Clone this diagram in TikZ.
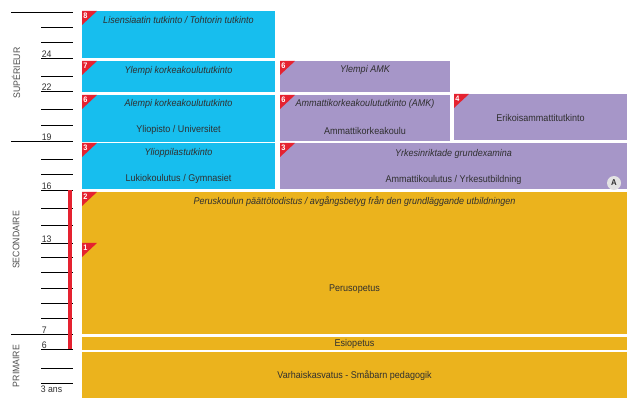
\documentclass[tikz,border=0pt]{standalone}
\usepackage{fontspec}
\setmainfont{Liberation Sans}[FakeStretch=0.92]
\usetikzlibrary{positioning}

\definecolor{uniblue}{HTML}{17BEEE}
\definecolor{amkpurple}{HTML}{A696C8}
\definecolor{basicorange}{HTML}{EBB31D}
\definecolor{flagred}{HTML}{E52230}
\definecolor{txtgray}{HTML}{2F2F2F}

% red corner with the number of the level
\newcommand\flag[3]{%
  \fill[flagred] (#2) -- ++(15,0) -- ++(-15,14) -- cycle;
  \node[flagnum] (#1) at ([xshift=3.4pt,yshift=-4.8pt]#2) {#3};}

\begin{document}
\begin{tikzpicture}[
    x=1pt, y=-1pt, % pixel grid, y downwards
    box/.style={anchor=north west, inner sep=0pt, outer sep=0pt, minimum height=#1},
    bluebox/.style={box=#1, fill=uniblue},
    purplebox/.style={box=#1, fill=amkpurple},
    orangebox/.style={box=#1, fill=basicorange},
    degree/.style={font=\fontsize{9.8}{11}\selectfont\itshape, text=txtgray, inner sep=0pt},
    school/.style={font=\fontsize{9.8}{11}\selectfont, text=txtgray, inner sep=0pt},
    flagnum/.style={font=\fontsize{8}{8}\selectfont\bfseries, text=white, inner sep=0pt},
    age/.style={anchor=south west, inner sep=0.6pt, font=\fontsize{9.5}{10}\selectfont, text=txtgray},
    level/.style={rotate=90, font=\fontsize{9.5}{10}\selectfont, text=txtgray!85},
    tick/.style={line width=0.8pt},
  ]
  \useasboundingbox (0,0) rectangle (627,398);

  % age scale
  \foreach \y in {27,42,58,76,91,109,125,159,174,190,208,225,243,257,272,288,303,318,349,368,383}
    \draw[tick] (41,\y) -- (73,\y);
  \foreach \y in {12,141,334}
    \draw[tick] (11,\y) -- (73,\y);
  \fill[flagred] (68,190) rectangle (72,349);
  \foreach \y/\a in {58/24, 91/22, 141/19, 190/16, 243/13, 334/7, 349/6}
    \node[age] (age\a) at (41,\y) {\a};
  \node[age, anchor=north west] (age3) at (40,385) {3 ans};

  \node[level] (sup) at (16,73) {SUPÉRIEUR};
  \node[level] (sec) at (16,240) {SECONDAIRE};
  \node[level] (prim) at (16,366) {PRIMAIRE};

  % university
  \node[bluebox=47pt, minimum width=193pt] (lis) at (82,11) {};
  \node[bluebox=31pt, minimum width=193pt] (ylk) at (82,61) {};
  \node[bluebox=47pt, minimum width=193pt] (alk) at (82,95) {};
  \node[bluebox=46pt, minimum width=193pt] (lukio) at (82,143) {};

  % polytechnic and vocational
  \node[purplebox=31pt, minimum width=170pt] (yamk) at (280,61) {};
  \node[purplebox=46pt, minimum width=170pt] (amk) at (280,95) {};
  \node[purplebox=46pt, minimum width=173pt] (eat) at (454,94) {};
  \node[purplebox=46pt, minimum width=347pt] (yrkes) at (280,143) {};

  % basic education
  \node[orangebox=142pt, minimum width=545pt] (perus) at (82,192) {};
  \node[orangebox=13pt, minimum width=545pt] (esi) at (82,337) {};
  \node[orangebox=46pt, minimum width=545pt] (varh) at (82,352) {};

  % texts
  \node[degree] (lis-t) at ([yshift=-9pt]lis.north) {Lisensiaatin tutkinto / Tohtorin tutkinto};
  \node[degree] (ylk-t) at ([yshift=-10pt]ylk.north) {Ylempi korkeakoulututkinto};
  \node[degree] (alk-t) at ([yshift=-9pt]alk.north) {Alempi korkeakoulututkinto};
  \node[school] (alk-s) at ([yshift=-35pt]alk.north) {Yliopisto / Universitet};
  \node[degree] (lukio-t) at ([yshift=-10pt]lukio.north) {Ylioppilastutkinto};
  \node[school] (lukio-s) at ([yshift=-36pt]lukio.north) {Lukiokoulutus / Gymnasiet};
  \node[degree] (yamk-t) at ([yshift=-9pt]yamk.north) {Ylempi AMK};
  \node[degree] (amk-t) at ([yshift=-9pt]amk.north) {Ammattikorkeakoulututkinto (AMK)};
  \node[school] (amk-s) at ([yshift=-36pt]amk.north) {Ammattikorkeakoulu};
  \node[school] (eat-s) at ([yshift=-1pt]eat.center) {Erikoisammattitutkinto};
  \node[degree] (yrkes-t) at ([yshift=-11pt]yrkes.north) {Yrkesinriktade grundexamina};
  \node[school] (yrkes-s) at ([yshift=-37pt]yrkes.north) {Ammattikoulutus / Yrkesutbildning};
  \node[degree] (perus-t) at ([yshift=-10pt]perus.north) {Peruskoulun päättötodistus / avgångsbetyg från den grundläggande utbildningen};
  \node[school] (perus-s) at ([yshift=-97pt]perus.north) {Perusopetus};
  \node[school] (esi-s) at (esi.center) {Esiopetus};
  \node[school] (varh-s) at ([yshift=-1pt]varh.center) {Varhaiskasvatus - Småbarn pedagogik};

  % levels
  \flag{f8}{lis.north west}{8}
  \flag{f7}{ylk.north west}{7}
  \flag{f6a}{alk.north west}{6}
  \flag{f3a}{lukio.north west}{3}
  \flag{f6b}{yamk.north west}{6}
  \flag{f6c}{amk.north west}{6}
  \flag{f4}{eat.north west}{4}
  \flag{f3b}{yrkes.north west}{3}
  \flag{f2}{perus.north west}{2}
  \flag{f1}{82,243}{1}

  \node[circle, fill=gray!22, inner sep=0pt, minimum size=14pt,
        text=txtgray, font=\fontsize{8.5}{9}\selectfont\bfseries] (anote) at (614,183) {A};
\end{tikzpicture}
\end{document}
